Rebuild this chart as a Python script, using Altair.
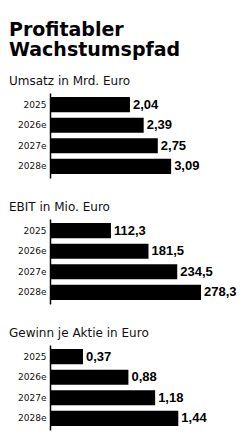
import altair as alt
import pandas as pd

# Kennzahlen je Jahr (e = Schätzung)
years = ["2025", "2026e", "2027e", "2028e"]
umsatz = [2.04, 2.39, 2.75, 3.09]      # Mrd. Euro
ebit = [112.3, 181.5, 234.5, 278.3]     # Mio. Euro
eps = [0.37, 0.88, 1.18, 1.44]          # Euro je Aktie

headline = ["Profitabler", "Wachstumspfad"]
panel_titles = ["Umsatz in Mrd. Euro", "EBIT in Mio. Euro", "Gewinn je Aktie in Euro"]


def de_format(values, decimals):
    return [f"{v:.{decimals}f}".replace(".", ",") for v in values]


def panel(title, values, decimals, dmax):
    df = pd.DataFrame({"Jahr": years, "Wert": values, "Label": de_format(values, decimals)})
    base = alt.Chart(df).encode(
        y=alt.Y(
            "Jahr:N",
            sort=years,
            scale=alt.Scale(paddingInner=0.26, paddingOuter=0.2),
            axis=alt.Axis(
                title=None, ticks=False, labelFont="DejaVu Sans", labelFontSize=9,
                labelColor="#111111", labelPadding=4, domainColor="#000000", domainWidth=1.5,
            ),
        ),
        x=alt.X("Wert:Q", scale=alt.Scale(domain=[0, dmax], nice=False, zero=True), axis=None),
    )
    bars = base.mark_bar(color="#000000")
    labels = base.mark_text(
        align="left", baseline="middle", dx=3, font="Liberation Sans",
        fontWeight="bold", fontSize=13, color="#000000",
    ).encode(text="Label:N")
    return alt.layer(bars, labels).properties(
        width=150,
        height=85,
        title=alt.TitleParams(
            title, anchor="start", frame="group", dx=-41, font="DejaVu Sans", fontSize=12,
            fontWeight="normal", color="#111111", offset=5,
        ),
    )


chart = alt.vconcat(
    panel(panel_titles[0], umsatz, 2, 150 / 39.2),
    panel(panel_titles[1], ebit, 1, 150 / 0.5426),
    panel(panel_titles[2], eps, 2, 150 / 89.1),
    spacing=23,
).properties(
    title=alt.TitleParams(
        headline, anchor="start", font="DejaVu Sans", fontSize=19, fontWeight="bold",
        lineHeight=20.5, color="#000000", offset=15,
    ),
    padding={"left": 9, "top": 20, "right": 2, "bottom": 2},
    background="#ffffff",
).configure_view(stroke=None)

chart.save("out.html", embed_options={"renderer": "svg", "actions": False})
